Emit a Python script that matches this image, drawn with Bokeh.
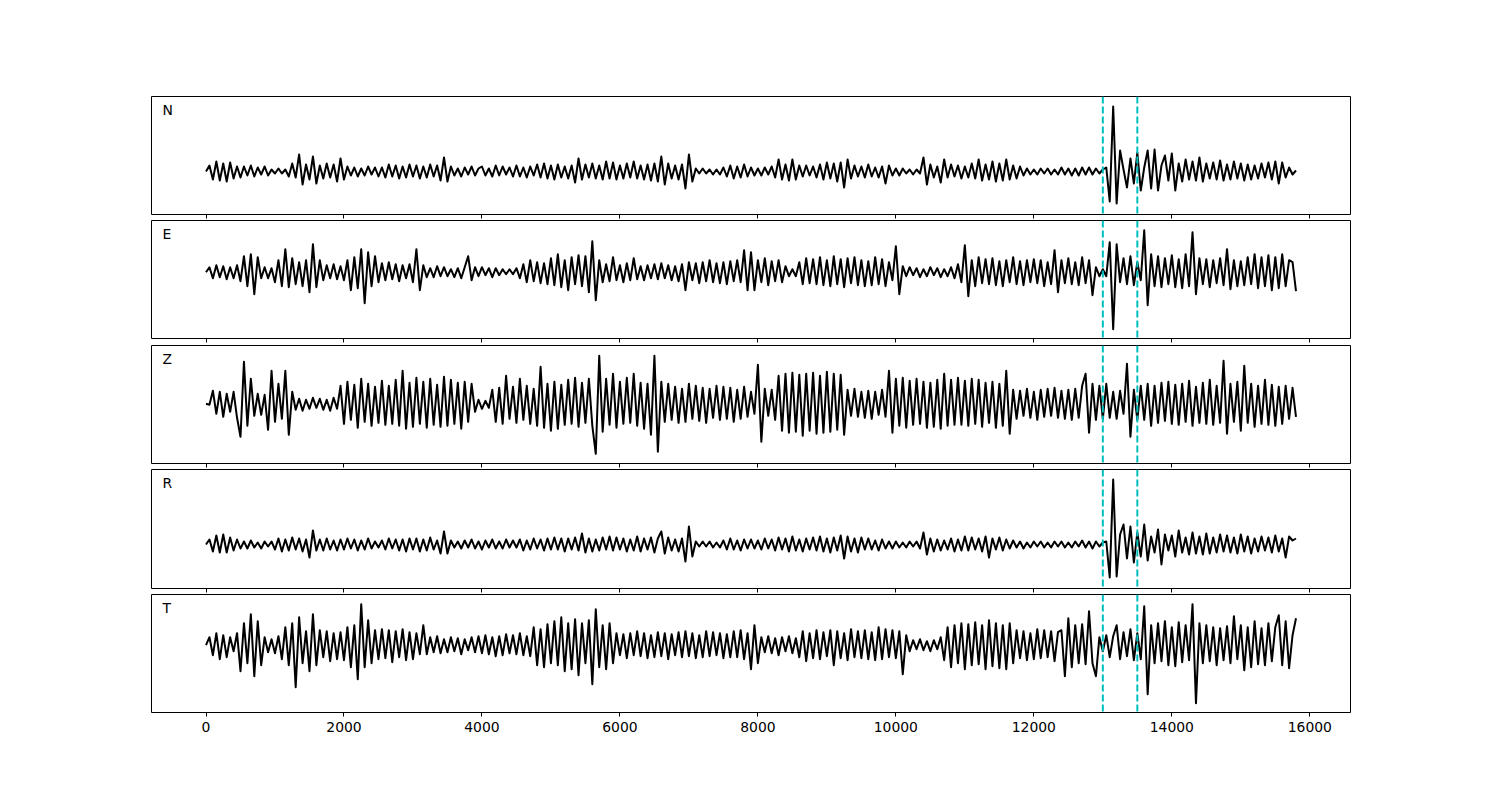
from bokeh.plotting import figure
from bokeh.layouts import column
from bokeh.models import Range1d, Span, Label, FixedTicker
from bokeh.embed import file_html
from bokeh.resources import INLINE

# ---------------- data ----------------
sample_step = 50          # samples between stored values
channels = ["N", "E", "Z", "R", "T"]

trace_N = [
    0, 6, -8, 10, -9, 8, -10, 9, -7, 5,
    -6, 5, -4, 6, -5, 4, -3, 5, -4, 2,
    -2, 3, -2, 2, -5, 8, -6, 17, -13, 7,
    -8, 15, -12, 6, -7, 8, -6, 7, -10, 13,
    -8, 5, -4, 4, -5, 3, -4, 5, -3, 4,
    -5, 4, -6, 7, -5, 6, -7, 5, -6, 7,
    -5, 6, -7, 5, -6, 7, -5, 6, -9, 14,
    -10, 5, -4, 3, -5, 4, -3, 5, -4, 3,
    5, -4, 3, -5, 6, -4, 5, -3, 4, -5,
    6, -5, 4, -6, 5, -4, 7, -6, 8, -7,
    6, -8, 7, -6, 5, -7, 6, -11, 13, -8,
    7, -6, 8, -7, 6, -8, 10, -7, 9, -8,
    6, -7, 8, -6, 10, -7, 6, -8, 7, -9,
    8, -10, 15, -13, 8, -7, 6, -8, 7, -17,
    17, -10, 3, -2, 3, -2, 2, -3, 2, -3,
    4, -5, 6, -7, 5, -6, 7, -5, 4, -4,
    3, -4, 4, -3, 5, -6, 12, -8, 7, -9,
    12, -8, 6, -5, 6, -4, 5, -6, 7, -8,
    9, -7, 8, -10, 9, -16, 12, -7, 6, -5,
    5, -6, 7, -5, 4, -6, 5, -12, 6, -4,
    3, -4, 3, -2, 2, -3, 2, -2, 14, -13,
    7, -6, 5, -11, 12, -6, 7, -5, 6, -7,
    5, -6, 8, -7, 12, -9, 7, -8, 10, -10,
    8, -9, 12, -8, 6, -7, 5, -4, 3, -3,
    2, -3, 3, -2, 3, -3, 2, -3, 4, -3,
    3, -4, 3, -4, 4, -3, 4, -3, 3, -2,
    2, 4, -30, 65, -32, 21, 2, -16, 13, -12,
    19, -19, 4, 21, -17, 22, -19, 6, 16, -9,
    18, -19, 8, -10, 12, -8, 10, -9, 14, -10,
    8, -7, 9, -8, 11, -9, 7, -8, 10, -7,
    8, -9, 7, -8, 6, -7, 8, -6, 9, -8,
    10, -12, 9, -6, 4, -3, 1,
]

trace_E = [
    0, 5, -6, 7, -5, 6, -7, 5, -6, 7,
    -9, 16, -14, 18, -22, 15, -6, 5, -6, 4,
    -10, 12, -14, 23, -15, 14, -12, 10, -14, 12,
    -20, 28, -15, 12, -8, 7, -6, 8, -7, 6,
    -8, 12, -18, 15, -16, 23, -31, 20, -14, 16,
    -10, 9, -8, 10, -7, 8, -9, 7, -6, 8,
    -10, 23, -18, 7, -5, 4, -5, 6, -4, 5,
    -4, 3, -5, 4, -6, 5, 16, -8, 5, -4,
    5, -3, 4, -5, 4, -3, 3, -2, 3, -2,
    4, -6, 8, -10, 12, -9, 10, -11, 9, -12,
    14, -13, 18, -15, 12, -18, 15, -12, 17, -14,
    16, -20, 31, -28, 12, -10, 8, -9, 15, -8,
    7, -10, 9, -8, 14, -7, 6, -8, 7, -6,
    8, -7, 9, -6, 7, -8, 6, -9, 8, -18,
    10, -8, 9, -11, 10, -9, 12, -10, 9, -11,
    10, -12, 11, -9, 12, -10, 22, -18, 20, -18,
    12, -10, 14, -13, 11, -9, 12, -10, 6, -4,
    3, -4, 10, -12, 14, -11, 13, -12, 15, -13,
    12, -14, 16, -12, 13, -15, 14, -11, 15, -13,
    12, -14, 11, -13, 15, -12, 13, -14, 10, -8,
    26, -22, 6, -4, 5, -3, 4, -5, 3, -4,
    5, -3, 4, -5, 3, -4, 5, -6, 8, -10,
    27, -24, 12, -14, 15, -11, 13, -12, 14, -13,
    11, -14, 12, -10, 15, -12, 11, -13, 12, -10,
    13, -11, 12, -14, 10, -12, 22, -20, 12, -11,
    14, -12, 10, -13, 15, -11, 12, -23, 5, -4,
    3, -4, 30, -57, 28, -10, 14, -12, 16, -13,
    10, -8, 42, -33, 18, -14, 16, -15, 14, -12,
    17, -15, 13, -16, 18, -14, 40, -22, 14, -12,
    13, -15, 12, -11, 14, -13, 23, -17, 12, -14,
    11, -13, 15, -12, 18, -16, 15, -14, 17, -18,
    15, -16, 18, -14, 12, 10, -19,
]

trace_Z = [
    0, -1, 13, -10, 12, -13, 10, -8, 12, -14,
    -33, 42, -22, 25, -12, 10, -11, 9, -26, 33,
    -18, 20, -15, 33, -31, 12, -6, 5, -7, 4,
    -5, 6, -4, 5, -6, 4, -7, 6, -5, 18,
    -20, 22, -16, 19, -24, 25, -18, 20, -22, 17,
    -19, 23, -21, 18, -20, 24, -22, 33, -25, 21,
    -23, 26, -20, 22, -24, 25, -21, 19, -23, 27,
    -22, 24, -20, 21, -25, 22, -18, 20, -8, 4,
    -5, 3, -4, 14, -18, 16, -20, 28, -15, 17,
    -19, 25, -16, 18, -20, 15, -22, 37, -24, 20,
    -27, 22, -25, 19, -21, 24, -20, 26, -23, 21,
    -19, 25, -22, -50, 48, -28, 25, -21, 30, -24,
    22, -20, 26, -19, 30, -22, 21, -25, 20, -31,
    48, -48, 22, -18, 20, -16, 17, -19, 15, -18,
    20, -15, 18, -17, 16, -19, 15, -14, 18, -16,
    17, -15, 16, -18, 14, -15, 17, -13, 12, -10,
    39, -38, 15, -12, 14, -16, 28, -27, 30, -29,
    31, -28, 29, -32, 30, -27, 31, -30, 28, -29,
    32, -28, 30, -26, 29, -31, 14, -12, 15, -13,
    12, -14, 13, -15, 12, -11, 14, -13, 33, -29,
    25, -22, 26, -24, 23, -21, 25, -20, 22, -24,
    21, -23, 24, -25, 30, -22, 24, -21, 26, -21,
    23, -22, 25, -20, 24, -23, 21, -19, 22, -24,
    20, -22, 33, -30, 14, -15, 13, -12, 15, -14,
    12, -16, 14, -13, 15, -12, 16, -14, 13, -15,
    14, -16, 15, -14, 18, 30, -29, 20, -16, 18,
    -15, 20, -14, 12, -15, 13, -10, 40, -33, 14,
    -16, 18, -16, 20, -22, 18, -19, 21, -17, 22,
    -20, 19, -21, 20, -18, 23, -22, 17, -19, 21,
    -20, 24, -21, 18, -19, 43, -30, 20, -18, 22,
    -27, 38, -19, 20, -23, 18, -20, 24, -21, 19,
    -22, 17, -20, 18, -15, 16, -13,
]

trace_R = [
    0, 5, -7, 9, -8, 10, -8, 7, -6, 5,
    -4, 3, -4, 4, -3, 2, -4, 3, -2, 3,
    -5, 6, -7, 5, -6, 7, -5, 6, -7, 5,
    -13, 14, -6, 5, -6, 6, -5, 4, -6, 5,
    -5, 6, -4, 5, -6, 4, -5, 6, -4, 3,
    -3, 4, -5, 6, -4, 5, -6, 5, -7, 6,
    -5, 6, -7, 5, -6, 7, -5, 4, -9, 13,
    -9, 4, -3, 3, -4, 4, -3, 5, -4, 3,
    -5, 4, -3, 5, -4, 3, -4, 5, -3, 4,
    -3, 5, -6, 4, -5, 6, -4, 5, -6, 6,
    -5, 7, -5, 6, -7, 6, -5, 7, -6, 11,
    -8, 6, -7, 5, -6, 7, -5, 8, -6, 7,
    -5, 6, -7, 5, -6, 8, -7, 6, -5, 7,
    -8, 6, 13, -9, 7, -6, 5, -7, 6, -17,
    18, -12, 3, -2, 3, -2, 3, -3, 2, -3,
    4, -5, 6, -5, 4, -6, 5, -4, 5, -4,
    4, -5, 6, -4, 5, -6, 7, -5, 6, -7,
    8, -6, 5, -7, 6, -5, 7, -6, 8, -7,
    6, -8, 7, -6, 9, -14, 8, -7, 6, -8,
    7, -5, 6, -5, 4, -6, 5, -4, 3, -4,
    3, -3, 2, -3, 3, -2, 3, -4, 12, -10,
    6, -7, 5, -6, 4, -5, 6, -7, 5, -6,
    8, -6, 7, -5, 6, -7, 8, -13, 6, -5,
    7, -6, 5, -4, 4, -3, 3, -4, 2, -3,
    3, -2, 3, -3, 2, -3, 3, -2, 3, -3,
    2, -3, 3, -2, 4, -3, 3, -4, 3, -2,
    2, 3, -33, 65, -32, 10, 20, -14, 18, -18,
    12, -12, 20, -16, 8, -8, 15, -20, 10, -6,
    9, -12, 14, -8, 7, -10, 12, -9, 8, -10,
    11, -9, 7, -8, 10, -7, 9, -8, 7, -9,
    10, -7, 8, -9, 6, -7, 8, -6, 7, -8,
    9, -7, 6, -13, 8, 4, 6,
]

trace_T = [
    0, 8, -10, 12, -14, 10, -12, 8, -6, 12,
    -26, 22, -18, 31, -31, 24, -20, 8, -7, 6,
    -8, 9, -14, 18, -20, 22, -42, 28, -18, 14,
    -26, 31, -20, 15, -12, 14, -16, 12, -14, 13,
    -15, 18, -22, 20, -34, 41, -22, 25, -18, 15,
    -14, 16, -13, 15, -17, 14, -12, 16, -15, 13,
    -14, 12, -9, 20, -9, 8, -7, 9, -8, 6,
    -7, 8, -6, 7, -9, 6, -5, 8, -7, 9,
    -8, 10, -9, 8, -11, 9, -10, 11, -8, 10,
    -9, 12, -10, 9, -11, 18, -20, 16, -22, 21,
    -18, 24, -20, 28, -26, 22, -24, 26, -30, 22,
    -18, 25, -39, 36, -22, 20, -24, 22, -18, 12,
    -10, 11, -13, 12, -10, 14, -11, 12, -13, 10,
    -12, 13, -11, 12, -14, 11, -10, 13, -12, 14,
    -11, 12, -13, 10, -12, 14, -11, 13, -10, 12,
    -13, 11, -12, 14, -12, 15, -14, 12, -24, 20,
    -18, 8, -7, 9, -8, 7, -10, 8, -6, 9,
    -8, 7, -12, 14, -16, 12, -13, 15, -14, 13,
    -11, 15, -20, 14, -13, 12, -15, 16, -12, 14,
    -13, 15, -14, 13, -15, 18, -14, 16, -12, 15,
    -13, 14, -29, 10, -6, 5, -4, 6, -5, 4,
    -6, 5, -4, 8, -15, 18, -22, 20, -18, 22,
    -24, 21, -20, 23, -19, 20, -24, 25, -21, 22,
    -23, 20, -24, 22, -18, 15, -13, 14, -15, 12,
    -14, 16, -13, 15, -12, 14, -16, 13, 15, -31,
    27, -22, 20, -18, 21, -19, 34, -18, -31, 8,
    -6, 10, -12, 9, 20, -14, 13, -11, 16, -15,
    12, -14, 39, -49, 20, -18, 22, -16, 24, -20,
    18, -21, 23, -17, 20, -15, 41, -58, 22, -18,
    20, -16, 18, -20, 17, -15, 19, -18, 29, -14,
    20, -25, 18, -22, 24, -19, 17, -20, 22, -16,
    18, 30, -20, 24, -23, 10, 27,
]

traces = {"N": trace_N, "E": trace_E, "Z": trace_Z, "R": trace_R, "T": trace_T}

# vertical limits of each panel (amplitude units)
y_limits = {
    "N": (-43, 75),
    "E": (-66.3, 51.7),
    "Z": (-59.7, 58.3),
    "R": (-44, 75),
    "T": (-67.3, 50.7),
}

picks = [13000, 13500]
xticks = [0, 2000, 4000, 6000, 8000, 10000, 12000, 14000, 16000]
x_limits = (-790, 16590)

# ---------------- layout ----------------
frame_heights = [118, 118, 118, 119, 118]
tops = [96, 0, 0, 0, 0]
bottoms = [6, 7, 6, 6, 44]

shared_x = Range1d(*x_limits)
figs = []
for k, name in enumerate(channels):
    ys = traces[name]
    xs = [i * sample_step for i in range(len(ys))]
    p = figure(frame_width=1199, frame_height=frame_heights[k],
               x_range=shared_x, y_range=Range1d(*y_limits[name]),
               toolbar_location=None, output_backend="svg",
               y_axis_location=None,
               min_border_left=151, min_border_right=20,
               min_border_top=tops[k], min_border_bottom=bottoms[k])
    p.xgrid.grid_line_color = None
    p.ygrid.grid_line_color = None
    p.outline_line_color = "black"
    p.outline_line_width = 1
    p.background_fill_color = "white"

    ax = p.xaxis[0]
    ax.ticker = FixedTicker(ticks=xticks)
    ax.axis_line_color = None
    ax.major_tick_out = 4
    ax.major_tick_in = 0
    ax.minor_tick_out = 0
    ax.minor_tick_in = 0
    ax.major_tick_line_color = "black"
    ax.major_tick_line_width = 1
    ax.major_label_text_font = "DejaVu Sans"
    if k < len(channels) - 1:
        # shared x axis: tick marks only, no labels
        ax.major_label_text_font_size = "0px"
        ax.major_label_text_color = None
        ax.major_label_standoff = 0
    else:
        ax.major_label_text_color = "black"
        ax.major_label_text_font_size = "13.9px"
        ax.major_label_standoff = 5

    p.line(xs, ys, line_color="black", line_width=2, line_join="round")

    for v in picks:
        p.add_layout(Span(location=v, dimension="height", line_color="#00bfbf",
                          line_width=2, line_dash="7 3"))

    p.add_layout(Label(x=-632, y=y_limits[name][1] - 5, text=name,
                       text_font="DejaVu Sans", text_font_size="13.9px",
                       text_baseline="top", text_align="left",
                       text_color="black"))
    figs.append(p)

layout = column(*figs, spacing=0)
open("out.html", "w").write(file_html(layout, INLINE))
